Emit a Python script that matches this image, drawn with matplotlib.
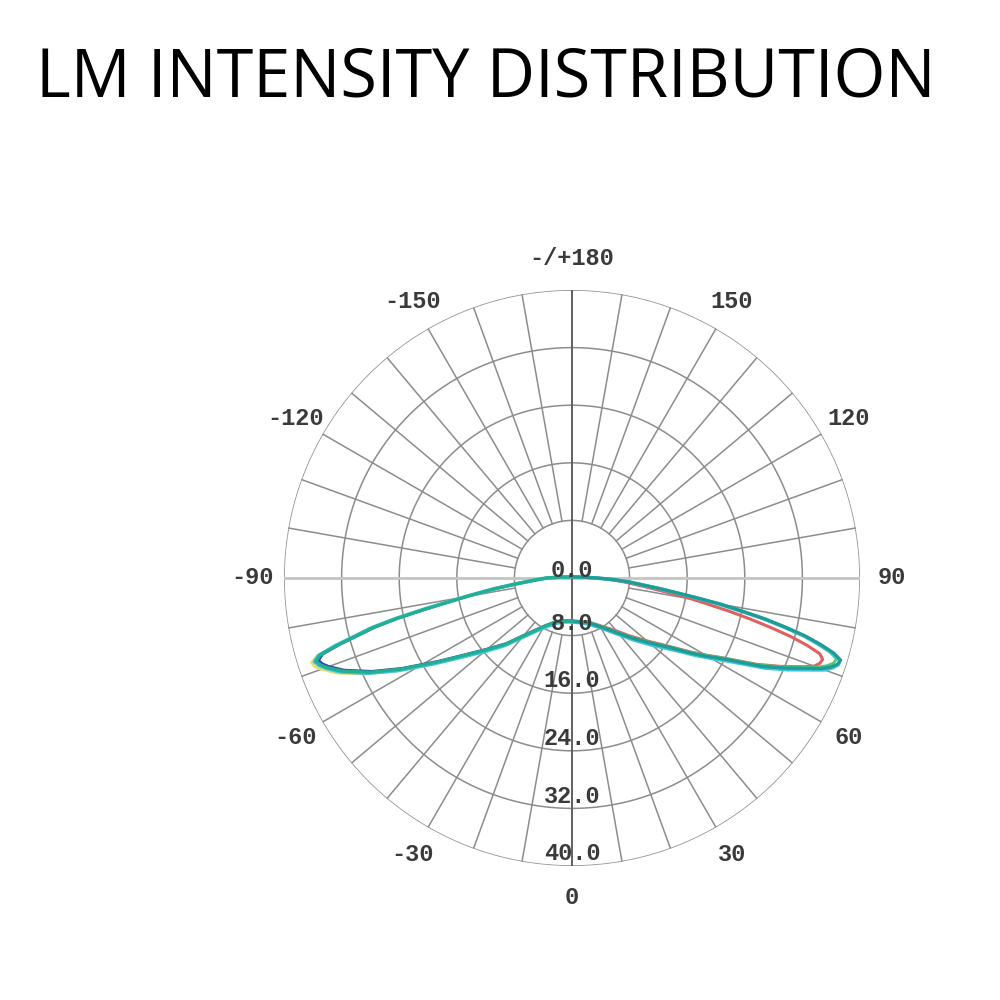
import numpy as np
import matplotlib
matplotlib.use("Agg")
import matplotlib.pyplot as plt

# intensity per C-plane, angles in degrees (0 = straight down, + = right side)
angles_right = [0, 10, 20, 30, 40, 45, 50, 55, 58, 60, 62, 65, 67, 69, 70, 71, 72, 73,
                74, 75, 76, 77, 78, 79, 80, 81, 83, 86, 88, 90, 95, 100, 120, 150, 180]
teal_right = [6.0, 6.2, 6.6, 7.8, 10.0, 11.8, 14.0, 17.0, 19.8, 21.8, 24.0, 29.0, 32.0,
              35.0, 36.8, 38.0, 38.8, 39.0, 37.8, 35.8, 33.5, 30.5, 27.5, 24.0, 21.0,
              17.5, 12.5, 8.0, 5.5, 3.5, 1.5, 0.8, 0.3, 0.2, 0.2]
cyan_right = [6.1, 6.3, 6.8, 8.0, 10.3, 12.2, 14.5, 17.5, 20.3, 22.3, 24.6, 29.6, 32.6,
              35.6, 37.3, 38.3, 38.9, 38.9, 37.5, 35.4, 33.2, 30.2, 27.2, 23.7, 20.7,
              17.2, 12.3, 7.9, 5.4, 3.4, 1.4, 0.8, 0.3, 0.2, 0.2]
red_right = [6.0, 6.2, 6.5, 7.6, 9.6, 11.4, 13.6, 16.6, 19.4, 21.4, 23.6, 28.4, 31.4,
             34.4, 35.8, 36.4, 36.6, 36.0, 34.0, 31.5, 28.5, 25.5, 22.5, 19.5, 17.0,
             14.5, 10.5, 7.0, 5.0, 3.2, 1.4, 0.8, 0.3, 0.2, 0.2]

angles_left = [0, -10, -20, -30, -40, -45, -50, -55, -58, -62, -65, -68, -70, -71, -72,
               -73, -74, -75, -76, -77, -78, -79, -80, -82, -84, -87, -90, -95, -100,
               -120, -150, -180]
teal_left = [6.0, 6.1, 6.5, 7.8, 10.5, 13.0, 15.5, 19.0, 22.0, 27.0, 31.0, 34.5, 36.3,
             37.0, 37.4, 36.6, 34.0, 31.0, 28.5, 25.0, 21.0, 17.5, 15.0, 11.0, 7.8,
             5.0, 3.5, 1.5, 0.8, 0.3, 0.2, 0.2]
cyan_left = [6.1, 6.2, 6.7, 8.0, 10.8, 13.3, 15.9, 19.4, 22.4, 27.4, 31.3, 34.8, 36.5,
             37.2, 37.6, 36.8, 34.3, 31.3, 28.8, 25.3, 21.3, 17.8, 15.2, 11.2, 7.9,
             5.1, 3.5, 1.5, 0.8, 0.3, 0.2, 0.2]
yellow_left = [5.9, 6.0, 6.4, 7.7, 10.4, 12.9, 15.5, 19.2, 22.3, 27.4, 31.5, 35.2, 37.0,
               37.8, 38.0, 37.0, 34.0, 30.8, 28.2, 24.8, 20.8, 17.3, 14.8, 10.9, 7.7,
               5.0, 3.5, 1.5, 0.8, 0.3, 0.2, 0.2]

ring_values = [8, 16, 24, 32, 40]
ring_labels = ["8.0", "16.0", "24.0", "32.0", "40.0"]
angle_ticks = [0, 30, 60, 90, 120, 150, 180, -150, -120, -90, -60, -30]
angle_labels = ["0", "30", "60", "90", "120", "150", "-/+180",
                "-150", "-120", "-90", "-60", "-30"]

MONO = "Liberation Mono"


def draw_grid(ax):
    full = np.radians(np.linspace(0, 360, 361))
    for r in ring_values:
        ax.plot(full, [r] * len(full), color="#8c8c8c", lw=1.1, zorder=1)
    for a in range(0, 360, 10):
        if a in (0, 90, 180, 270):
            continue
        ax.plot([np.radians(a)] * 2, [8, 40], color="#8c8c8c", lw=1.1, zorder=1)
    # 90 line light, 0/180 line dark
    ax.plot([np.radians(90), np.radians(90)], [0, 40], color="#c4c4c4", lw=2, zorder=1)
    ax.plot([np.radians(-90), np.radians(-90)], [0, 40], color="#c4c4c4", lw=2, zorder=1)
    ax.plot([0, 0], [0, 40], color="#606060", lw=1.4, zorder=1)
    ax.plot([np.pi, np.pi], [0, 40], color="#606060", lw=1.4, zorder=1)


def main():
    fig = plt.figure(figsize=(10, 10), dpi=100)
    fig.text(0.036, 0.921, "LM INTENSITY DISTRIBUTION", family="Open Sans",
             fontsize=48, color="black", ha="left", va="center")

    ax = fig.add_axes([0.284, 0.134, 0.576, 0.576], projection="polar")
    ax.set_theta_zero_location("S")
    ax.set_theta_direction(1)
    ax.set_rlim(0, 40)
    ax.grid(False)
    ax.set_xticks([])
    ax.set_yticks([])
    ax.spines["polar"].set_visible(False)

    draw_grid(ax)

    ar = np.radians(angles_right)
    al = np.radians(angles_left)
    ax.plot(al, yellow_left, color="#e8dc70", lw=2.2, zorder=3)
    ax.plot(ar, red_right, color="#e06060", lw=2.2, zorder=3)
    ax.plot(ar, [v * 0.985 for v in teal_right], color="#50c878", lw=2.0, zorder=3)
    ax.plot(al, [v * 0.99 for v in teal_left], color="#3048a8", lw=2.0, zorder=3)
    ax.plot(ar, cyan_right, color="#40c4e0", lw=2.6, zorder=4)
    ax.plot(al, cyan_left, color="#40c4e0", lw=2.6, zorder=4)
    ax.plot(ar, teal_right, color="#1f9c94", lw=2.4, zorder=5)
    ax.plot(al, teal_left, color="#22b094", lw=2.4, zorder=5)

    for a, lab in zip(angle_ticks, angle_labels):
        ax.text(np.radians(a), 44.4, lab, family=MONO, fontsize=17, weight="bold",
                color="#3a3a3a", ha="center", va="center", zorder=6)
    ax.text(0, 0.6, "0.0", family=MONO, fontsize=17, weight="bold", color="#3a3a3a",
            ha="center", va="bottom", zorder=6)
    for r, lab in zip(ring_values, ring_labels):
        ax.text(0, r - 0.1, lab, family=MONO, fontsize=17, weight="bold",
                color="#3a3a3a", ha="center", va="bottom", zorder=6)

    fig.savefig("out.png", dpi=100, facecolor="white")
    plt.close(fig)


if __name__ == "__main__":
    main()
